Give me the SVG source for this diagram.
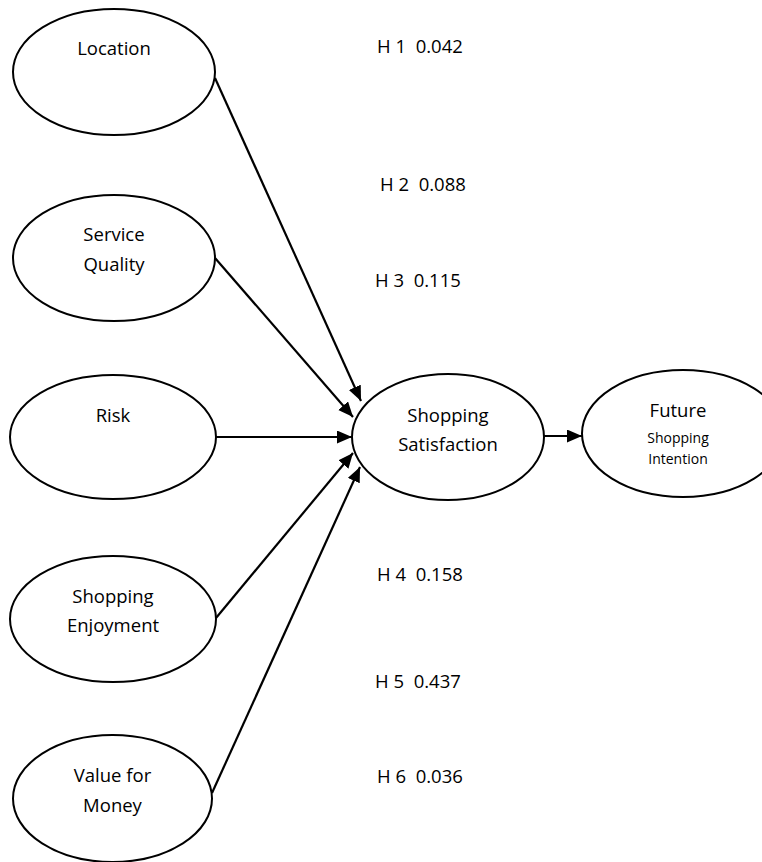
<svg xmlns="http://www.w3.org/2000/svg" width="762" height="862" viewBox="0 0 762 862">
<style>
.node ellipse{fill:#fff;stroke:#000;stroke-width:2}
text{font-family:"Open Sans","Liberation Sans",sans-serif;font-size:18.5px;fill:#000;text-anchor:middle}
.small{font-size:14px}
.h{text-anchor:start;white-space:pre}
.edges line{stroke:#000;stroke-width:2.2;marker-end:url(#ah)}
</style>
<defs>
<marker id="ah" markerUnits="userSpaceOnUse" markerWidth="16" markerHeight="14" refX="15" refY="6.5" orient="auto">
<path d="M0,0 L15,6.5 L0,13 z" fill="#000"/>
</marker>
</defs>
<rect width="762" height="862" fill="#fff"/>
<g class="edges" id="connectors">
<line x1="215" y1="78" x2="361" y2="401"/>
<line x1="215" y1="258" x2="353" y2="417"/>
<line x1="216" y1="437" x2="352" y2="437"/>
<line x1="216" y1="618" x2="353" y2="453"/>
<line x1="212" y1="793" x2="360" y2="467"/>
<line x1="544" y1="436" x2="582" y2="436"/>
</g>
<g class="node" id="location">
<ellipse cx="114" cy="72" rx="101" ry="63"/>
<text x="114" y="55">Location</text>
</g>
<g class="node" id="service-quality">
<ellipse cx="114" cy="258" rx="101" ry="63"/>
<text x="114" y="241">Service</text>
<text x="114" y="271">Quality</text>
</g>
<g class="node" id="risk">
<ellipse cx="113" cy="437" rx="103" ry="62"/>
<text x="113" y="422">Risk</text>
</g>
<g class="node" id="shopping-enjoyment">
<ellipse cx="113" cy="619" rx="103" ry="63"/>
<text x="113" y="603">Shopping</text>
<text x="113" y="632">Enjoyment</text>
</g>
<g class="node" id="value-for-money">
<ellipse cx="112.5" cy="798.5" rx="99.5" ry="63.5"/>
<text x="112.5" y="782">Value for</text>
<text x="112.5" y="812">Money</text>
</g>
<g class="node" id="shopping-satisfaction">
<ellipse cx="448" cy="437" rx="96" ry="63"/>
<text x="448" y="422">Shopping</text>
<text x="448" y="451">Satisfaction</text>
</g>
<g class="node" id="future-shopping-intention">
<ellipse cx="683" cy="433.5" rx="101" ry="63.5"/>
<text x="678" y="417">Future</text>
<text class="small" x="678" y="443">Shopping</text>
<text class="small" x="678" y="464">Intention</text>
</g>
<g id="labels">
<text class="h" x="377" y="53">H 1  0.042</text>
<text class="h" x="380" y="191">H 2  0.088</text>
<text class="h" x="375" y="287">H 3  0.115</text>
<text class="h" x="377" y="581">H 4  0.158</text>
<text class="h" x="375" y="688">H 5  0.437</text>
<text class="h" x="377" y="783">H 6  0.036</text>
</g>
</svg>
